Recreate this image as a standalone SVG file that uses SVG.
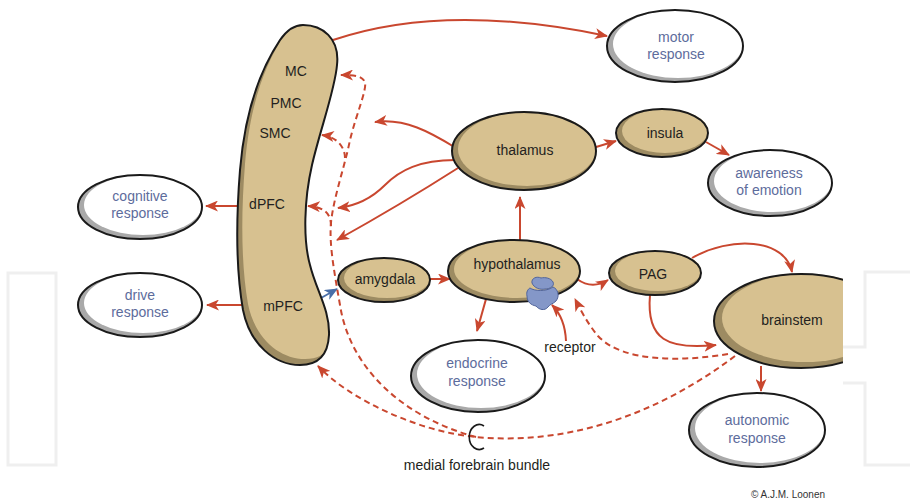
<svg xmlns="http://www.w3.org/2000/svg" width="910" height="504" viewBox="0 0 910 504">
<style>
.shade{fill:#9d8b62}
.tan{fill:#d7c190}
.wshade{fill:#a9a9a9}
.white{fill:#ffffff}
.outline{fill:none;stroke:#1a1a1a;stroke-width:2}
.lbl{font-family:"Liberation Sans",Arial,sans-serif;font-size:14px;fill:#231f20;text-anchor:middle}
.resp{font-family:"Liberation Sans",Arial,sans-serif;font-size:14px;fill:#5d6c9c;text-anchor:middle}
.ln{fill:none;stroke:#c9472f;stroke-width:2}
.dash{fill:none;stroke:#c9472f;stroke-width:2;stroke-dasharray:6 4}
.arr{marker-end:url(#ah)}
.wm{fill:none;stroke:#efefef;stroke-width:3}
</style>
<defs>
<marker id="ah" markerUnits="userSpaceOnUse" markerWidth="13" markerHeight="11" refX="12" refY="5.5" orient="auto">
<path d="M0,0 L13,5.5 L0,11 L3.5,5.5 Z" fill="#c9472f"/>
</marker>
<marker id="ahb" markerUnits="userSpaceOnUse" markerWidth="13" markerHeight="11" refX="12" refY="5.5" orient="auto">
<path d="M0,0 L13,5.5 L0,11 L3.5,5.5 Z" fill="#4a6fa8"/>
</marker>
<clipPath id="cortexClip"><path id="cortexPath" d="M303,25 C322,25 340,38 337,65 C335,90 320,130 312,165 C304,200 303,240 310,265 C316,290 330,310 329,335 C328,355 318,365 300,365 C275,365 250,345 243,310 C236,270 236,220 240,170 C245,110 260,70 280,40 C287,30 295,25 303,25 Z"/></clipPath>
<clipPath id="bsClip"><rect x="0" y="0" width="843" height="504"/></clipPath>
</defs>
<rect x="0" y="0" width="910" height="504" fill="#ffffff"/>

<g id="watermark">
<rect class="wm" x="8" y="273" width="48" height="192"/>
<path class="wm" d="M843,347 H865 V272 H912 M843,383 H865 V465 H912"/>
</g>

<g id="connectors">
<!-- cortex to motor -->
<path class="ln arr" d="M333,40 Q445,2 607,36"/>
<!-- thalamus to cortex -->
<path class="ln arr" d="M456,148 C430,132 405,118 375,122"/>
<path class="ln arr" d="M455,160 C420,160 400,170 385,185 C372,198 355,206 338,208"/>
<path class="ln arr" d="M458,168 Q400,205 337,240"/>
<!-- cortex to responses -->
<path class="ln arr" d="M239,206 H206"/>
<path class="ln arr" d="M244,305 H207"/>
<!-- mPFC to amygdala (blue) -->
<path d="M321,298 L337,289" fill="none" stroke="#4a6fa8" stroke-width="2" marker-end="url(#ahb)"/>
<!-- amygdala to hypothalamus -->
<path class="ln arr" d="M430,279 H450"/>
<!-- hypothalamus to thalamus -->
<path class="ln arr" d="M520,240 V197"/>
<!-- thalamus to insula -->
<path class="ln arr" d="M596,147 L616,141"/>
<!-- insula to awareness -->
<path class="ln arr" d="M706,142 L729,155"/>
<!-- hypothalamus to PAG -->
<path class="ln arr" d="M577,279 Q592,290 608,280"/>
<!-- PAG to brainstem -->
<path class="ln arr" d="M692,258 C730,236 785,238 792,272"/>
<path class="ln arr" d="M650,295 C646,340 668,350 716,345"/>
<!-- brainstem to autonomic -->
<path class="ln arr" d="M761,366 V391"/>
<!-- hypothalamus to endocrine -->
<path class="ln arr" d="M486,299 L477,331"/>
<!-- receptor -->
<path class="ln arr" d="M566,341 Q565,318 552,305"/>
<!-- dashed: brainstem to hypothalamus -->
<path class="dash arr" d="M728,354 C680,362 622,362 598,336 C588,324 581,311 575,299"/>
<!-- dashed: brainstem via MFB to cortex bottom -->
<path class="dash arr" d="M735,356 C650,420 560,445 476,437 C420,432 350,400 318,366"/>
<!-- dashed: MFB ascending along cortex -->
<path class="dash arr" d="M476,437 C405,418 350,370 340,305 C333,265 328,238 332,215 C336,190 345,165 350,140 C356,115 367,90 365,82 C362,76 356,75 341,75"/>
<path class="dash arr" d="M331,226 C331,215 326,207 308,206"/>
<path class="dash arr" d="M345,158 C345,148 338,137 322,135"/>
</g>

<g id="cortex">
<use href="#cortexPath" class="shade"/>
<g clip-path="url(#cortexClip)"><use href="#cortexPath" class="tan" transform="translate(5,-6)"/></g>
<use href="#cortexPath" class="outline"/>
<text class="lbl" x="296" y="76">MC</text>
<text class="lbl" x="286" y="108">PMC</text>
<text class="lbl" x="275" y="138">SMC</text>
<text class="lbl" x="267" y="209">dPFC</text>
<text class="lbl" x="283" y="311">mPFC</text>
</g>

<g id="motor-response">
<ellipse class="wshade" cx="675" cy="46" rx="68" ry="36"/>
<ellipse class="white" cx="678" cy="44" rx="65" ry="34"/>
<ellipse class="outline" cx="675" cy="46" rx="68" ry="36"/>
<text class="resp" x="676" y="42">motor</text>
<text class="resp" x="676" y="59">response</text>
</g>

<g id="thalamus">
<ellipse class="shade" cx="524" cy="151" rx="72" ry="39"/>
<ellipse class="tan" cx="527" cy="149" rx="69" ry="37"/>
<ellipse class="outline" cx="524" cy="151" rx="72" ry="39"/>
<text class="lbl" x="525" y="155">thalamus</text>
</g>

<g id="insula">
<ellipse class="shade" cx="662" cy="133" rx="46" ry="24"/>
<ellipse class="tan" cx="665" cy="131" rx="43" ry="22"/>
<ellipse class="outline" cx="662" cy="133" rx="46" ry="24"/>
<text class="lbl" x="665" y="138">insula</text>
</g>

<g id="awareness-of-emotion">
<ellipse class="wshade" cx="770" cy="183" rx="62" ry="33"/>
<ellipse class="white" cx="773" cy="181" rx="59" ry="31"/>
<ellipse class="outline" cx="770" cy="183" rx="62" ry="33"/>
<text class="resp" x="769" y="178">awareness</text>
<text class="resp" x="769" y="195">of emotion</text>
</g>

<g id="cognitive-response">
<ellipse class="wshade" cx="140" cy="207" rx="62" ry="32"/>
<ellipse class="white" cx="143" cy="205" rx="59" ry="30"/>
<ellipse class="outline" cx="140" cy="207" rx="62" ry="32"/>
<text class="resp" x="140" y="201">cognitive</text>
<text class="resp" x="140" y="218">response</text>
</g>

<g id="drive-response">
<ellipse class="wshade" cx="140" cy="305" rx="62" ry="32"/>
<ellipse class="white" cx="143" cy="303" rx="59" ry="30"/>
<ellipse class="outline" cx="140" cy="305" rx="62" ry="32"/>
<text class="resp" x="140" y="300">drive</text>
<text class="resp" x="140" y="317">response</text>
</g>

<g id="amygdala">
<ellipse class="shade" cx="384" cy="280" rx="46" ry="22"/>
<ellipse class="tan" cx="387" cy="278" rx="43" ry="20"/>
<ellipse class="outline" cx="384" cy="280" rx="46" ry="22"/>
<text class="lbl" x="385" y="284">amygdala</text>
</g>

<g id="hypothalamus">
<ellipse class="shade" cx="514" cy="271" rx="66" ry="31"/>
<ellipse class="tan" cx="517" cy="269" rx="63" ry="29"/>
<ellipse class="outline" cx="514" cy="271" rx="66" ry="31"/>
<text class="lbl" x="517" y="269">hypothalamus</text>
</g>

<g id="receptor">
<path d="M530,288 C534,291 546,292 553,287 C558,289 560,296 556,301 C553,304 550,304 548,307 C545,311 539,310 536,306 C531,305 527,302 527,296 C526,292 528,289 530,288 Z" fill="#8497c8" stroke="#50649b" stroke-width="1"/>
<path d="M532,283 C531,278 537,276 541,278 C545,277 551,278 553,282 C555,286 550,289 545,289 C540,290 534,288 532,283 Z" fill="#8497c8" stroke="#50649b" stroke-width="1"/>
<text class="lbl" x="570" y="352">receptor</text>
</g>

<g id="endocrine-response">
<ellipse class="wshade" cx="478" cy="376" rx="67" ry="36"/>
<ellipse class="white" cx="481" cy="374" rx="64" ry="34"/>
<ellipse class="outline" cx="478" cy="376" rx="67" ry="36"/>
<text class="resp" x="477" y="368">endocrine</text>
<text class="resp" x="477" y="386">response</text>
</g>

<g id="PAG">
<ellipse class="shade" cx="655" cy="273" rx="46" ry="22"/>
<ellipse class="tan" cx="658" cy="271" rx="43" ry="20"/>
<ellipse class="outline" cx="655" cy="273" rx="46" ry="22"/>
<text class="lbl" x="653" y="279">PAG</text>
</g>

<g id="brainstem" clip-path="url(#bsClip)">
<ellipse class="shade" cx="801" cy="321" rx="87" ry="47"/>
<ellipse class="tan" cx="805" cy="318" rx="83" ry="44"/>
<ellipse class="outline" cx="801" cy="321" rx="87" ry="47"/>
<text class="lbl" x="792" y="325">brainstem</text>
</g>

<g id="autonomic-response">
<ellipse class="wshade" cx="757" cy="430" rx="68" ry="37"/>
<ellipse class="white" cx="760" cy="428" rx="65" ry="35"/>
<ellipse class="outline" cx="757" cy="430" rx="68" ry="37"/>
<text class="resp" x="757" y="425">autonomic</text>
<text class="resp" x="757" y="443">response</text>
</g>

<g id="medial-forebrain-bundle">
<path d="M484,426 A10,12.5 0 1,0 484,448" fill="none" stroke="#1a1a1a" stroke-width="1.6"/>
<text class="lbl" x="477" y="470">medial forebrain bundle</text>
</g>

<text x="788" y="498" font-family="'Liberation Sans',Arial,sans-serif" font-size="10" fill="#333333" text-anchor="middle">© A.J.M. Loonen</text>
</svg>
